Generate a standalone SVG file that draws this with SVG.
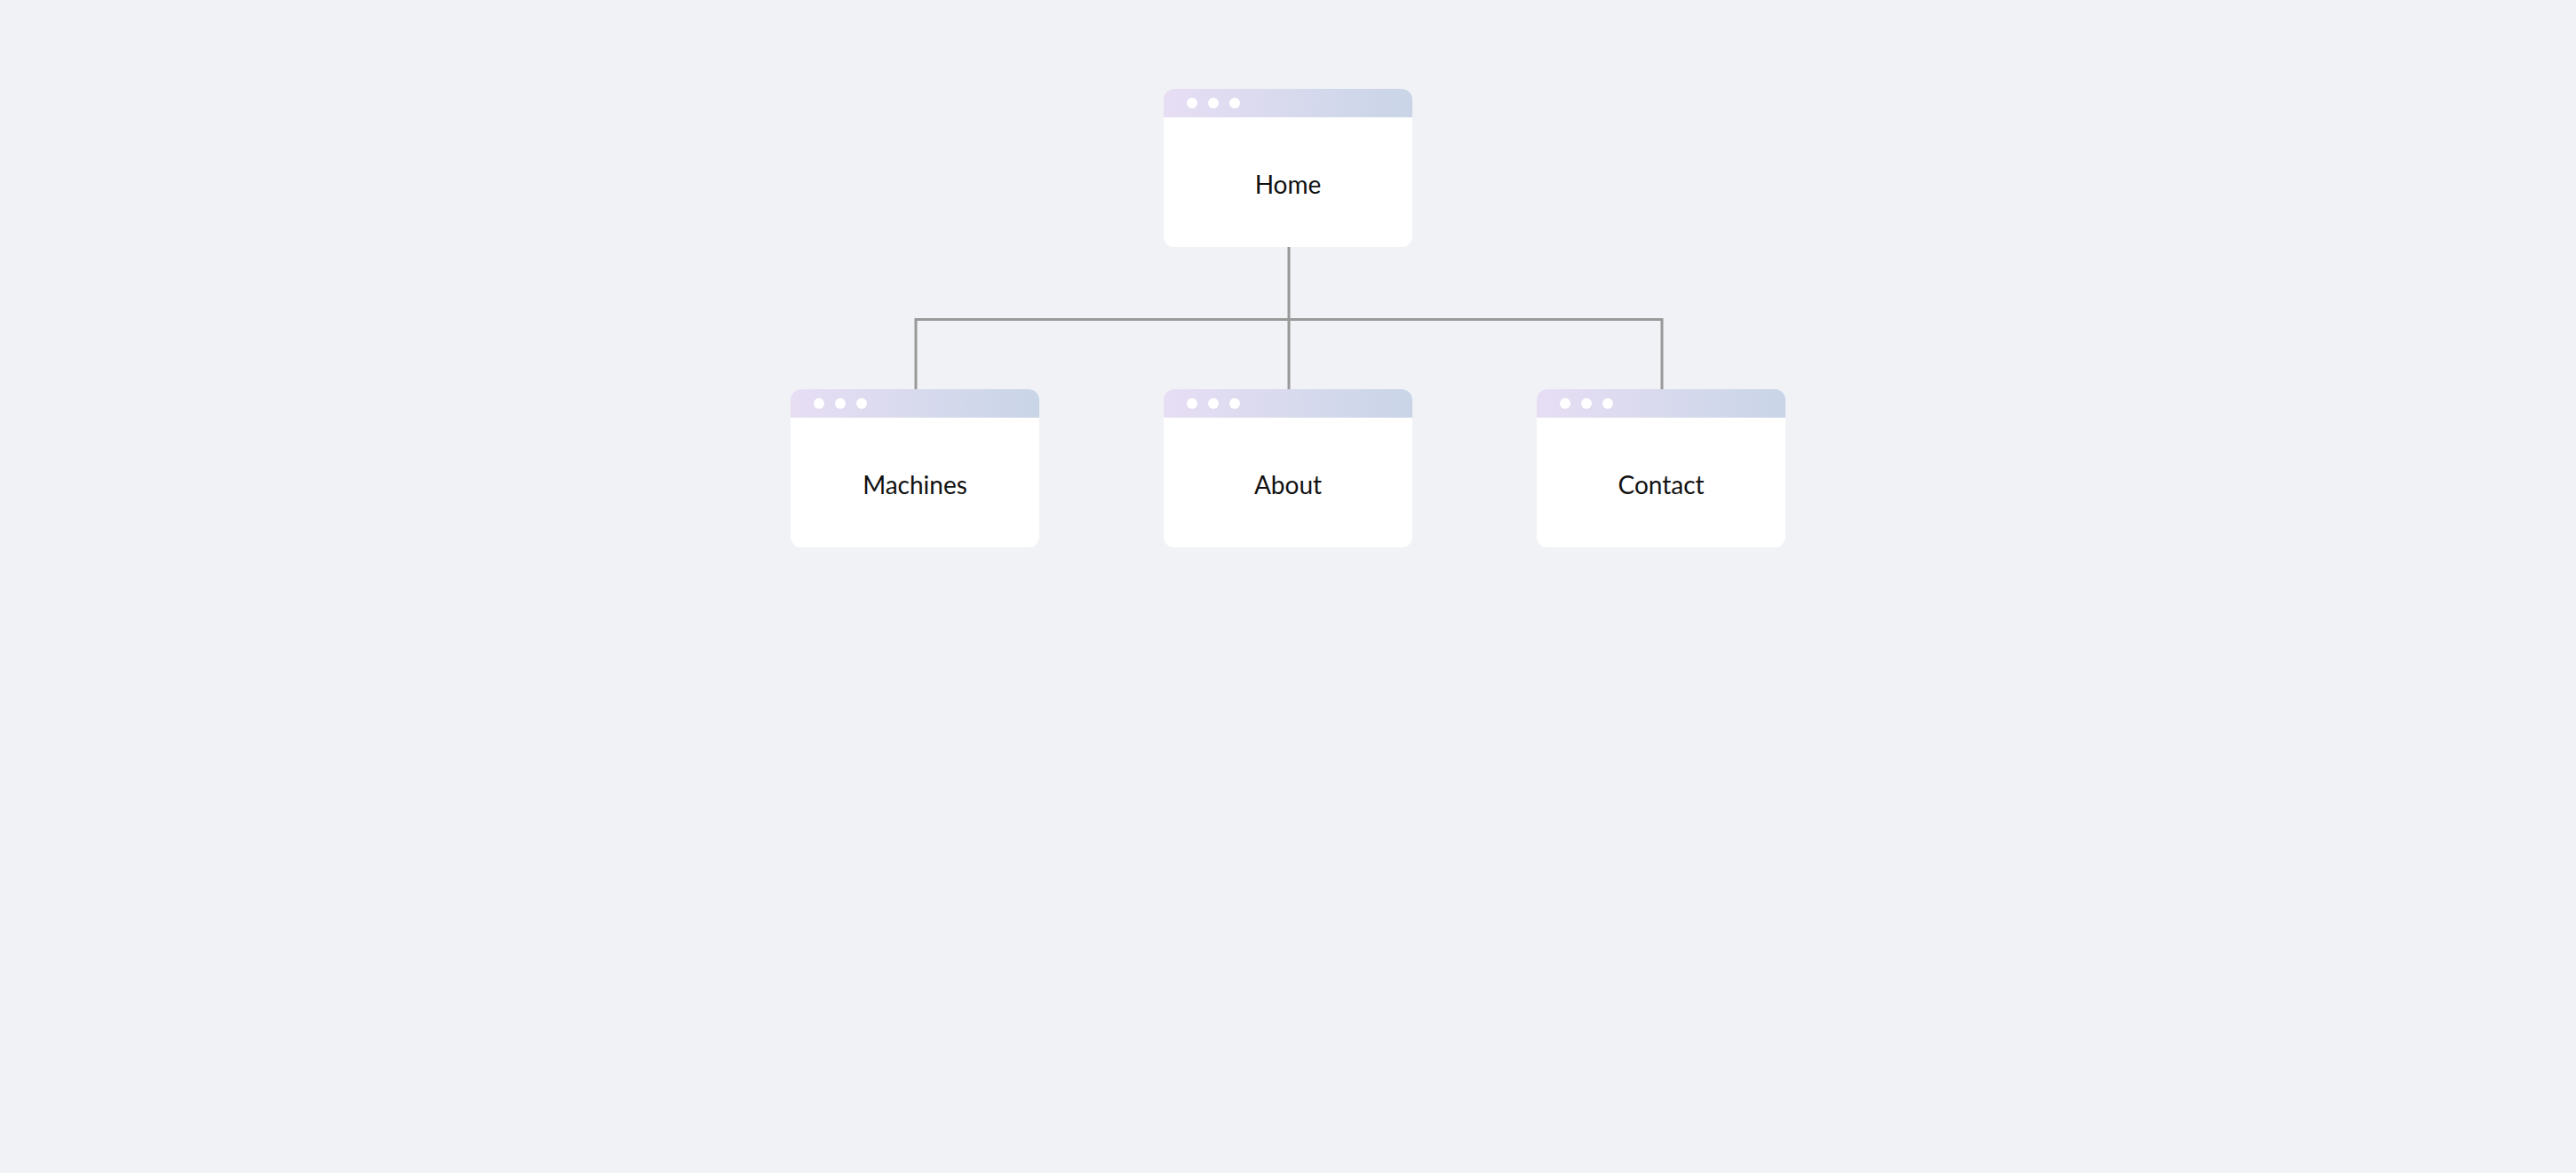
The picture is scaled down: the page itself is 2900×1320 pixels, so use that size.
<svg xmlns="http://www.w3.org/2000/svg" width="2900" height="1320" viewBox="0 0 2900 1320">
<defs>
<linearGradient id="hdr" x1="0" y1="0" x2="1" y2="0">
<stop offset="0" stop-color="#e7def4"/>
<stop offset="1" stop-color="#c9d5e7"/>
</linearGradient>
<clipPath id="clipHome"><rect x="1310" y="100" width="280" height="178" rx="12"/></clipPath>
<clipPath id="clipMachines"><rect x="890" y="438" width="280" height="178" rx="12"/></clipPath>
<clipPath id="clipAbout"><rect x="1310" y="438" width="280" height="178" rx="12"/></clipPath>
<clipPath id="clipContact"><rect x="1730" y="438" width="280" height="178" rx="12"/></clipPath>
</defs>
<style>
.body{fill:#ffffff}
.hdr{fill:url(#hdr)}
.dot{fill:#ffffff}
.lbl{font-family:Lato,"Liberation Sans",sans-serif;font-size:28px;fill:#111111;text-anchor:middle}
.conn{fill:none;stroke:#999999;stroke-width:3}
</style>
<rect width="2900" height="1320" fill="#f0f2f6"/>
<g id="connectors">
<path class="conn" d="M1451 278 V359.5"/>
<path class="conn" d="M1031 438 V359.5 H1871 V438"/>
<path class="conn" d="M1451 359.5 V438"/>
</g>
<g id="node-home" clip-path="url(#clipHome)">
<rect class="body" x="1310" y="100" width="280" height="178"/>
<rect class="hdr" x="1310" y="100" width="280" height="32"/>
<circle class="dot" cx="1342" cy="116" r="6"/>
<circle class="dot" cx="1366" cy="116" r="6"/>
<circle class="dot" cx="1390" cy="116" r="6"/>
<text class="lbl" x="1450" y="218">Home</text>
</g>
<g id="node-machines" clip-path="url(#clipMachines)">
<rect class="body" x="890" y="438" width="280" height="178"/>
<rect class="hdr" x="890" y="438" width="280" height="32"/>
<circle class="dot" cx="922" cy="454" r="6"/>
<circle class="dot" cx="946" cy="454" r="6"/>
<circle class="dot" cx="970" cy="454" r="6"/>
<text class="lbl" x="1030" y="556">Machines</text>
</g>
<g id="node-about" clip-path="url(#clipAbout)">
<rect class="body" x="1310" y="438" width="280" height="178"/>
<rect class="hdr" x="1310" y="438" width="280" height="32"/>
<circle class="dot" cx="1342" cy="454" r="6"/>
<circle class="dot" cx="1366" cy="454" r="6"/>
<circle class="dot" cx="1390" cy="454" r="6"/>
<text class="lbl" x="1450" y="556">About</text>
</g>
<g id="node-contact" clip-path="url(#clipContact)">
<rect class="body" x="1730" y="438" width="280" height="178"/>
<rect class="hdr" x="1730" y="438" width="280" height="32"/>
<circle class="dot" cx="1762" cy="454" r="6"/>
<circle class="dot" cx="1786" cy="454" r="6"/>
<circle class="dot" cx="1810" cy="454" r="6"/>
<text class="lbl" x="1870" y="556">Contact</text>
</g>
</svg>
